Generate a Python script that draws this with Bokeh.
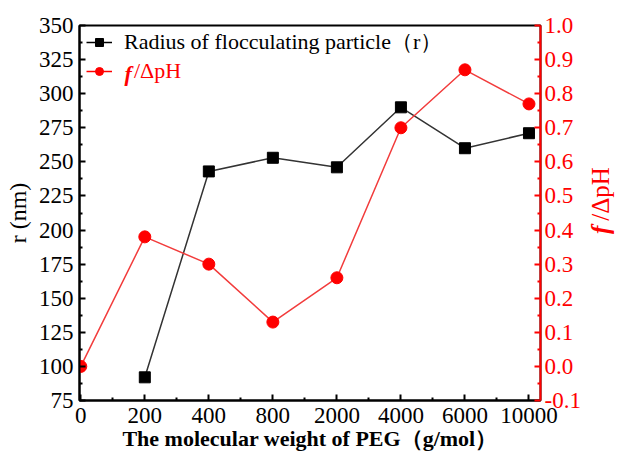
import math
from bokeh.plotting import figure
from bokeh.layouts import row
from bokeh.models import Range1d, LinearAxis, FixedTicker, Legend, LegendItem, ColumnDataSource, Label
from bokeh.embed import file_html
from bokeh.resources import INLINE

categories = ["0", "200", "400", "800", "2000", "4000", "6000", "10000"]
r_cats = ["200", "400", "800", "2000", "4000", "6000", "10000"]
r_values = [92, 243, 253, 246, 290, 260, 271]
f_values = [0.0, 0.38, 0.30, 0.13, 0.26, 0.70, 0.87, 0.77]
left_ticks = [75, 100, 125, 150, 175, 200, 225, 250, 275, 300, 325, 350]
right_ticks = [-0.1, 0.0, 0.1, 0.2, 0.3, 0.4, 0.5, 0.6, 0.7, 0.8, 0.9, 1.0]

idx = {c: i for i, c in enumerate(categories)}
r_x = [idx[c] for c in r_cats]
f_x = [idx[c] for c in categories]

FONT = "Liberation Serif"
RED = "#ff0000"
LINE_RED = "#f23c3c"

X0, X1 = -0.02, 7.18
Y0, Y1 = 75, 350
FL, FT, FW, FH = 79, 25, 461, 375
MAIN_W = 588
SIDE_W = 617 - MAIN_W


def px_to_x(px):
    return X0 + (px - FL) / FW * (X1 - X0)


def py_to_y(py):
    return Y1 - (py - FT) / FH * (Y1 - Y0)


p = figure(width=MAIN_W, height=451, output_backend="svg", toolbar_location=None,
           x_range=Range1d(X0, X1), y_range=Range1d(Y0, Y1),
           min_border_left=FL, min_border_right=MAIN_W - FL - FW, min_border_top=FT,
           min_border_bottom=451 - FT - FH)
p.frame_width = FW
p.frame_height = FH
p.xgrid.visible = False
p.ygrid.visible = False
p.outline_line_color = "black"
p.outline_line_width = 2
p.background_fill_color = "white"
p.border_fill_color = "white"

p.extra_y_ranges = {"f": Range1d(-0.1, 1.0)}

xa = p.xaxis[0]
xa.ticker = FixedTicker(ticks=list(range(len(categories))),
                        minor_ticks=[i + 0.5 for i in range(len(categories))])
xa.major_label_overrides = {i: c for i, c in enumerate(categories)}
xa.axis_label = "The molecular weight of PEG（g/mol）"

ya = p.yaxis[0]
ya.ticker = FixedTicker(ticks=left_ticks, minor_ticks=[t + 12.5 for t in left_ticks[:-1]])
ya.axis_label = "r (nm)"

ra = LinearAxis(y_range_name="f")
ra.ticker = FixedTicker(ticks=right_ticks, minor_ticks=[round(t + 0.05, 2) for t in right_ticks[:-1]])
ra.major_label_overrides = {t: f"{t:.1f}" for t in right_ticks}
p.add_layout(ra, "right")

for ax in (xa, ya, ra):
    ax.major_tick_in = 6
    ax.major_tick_out = 0
    ax.minor_tick_in = 3
    ax.minor_tick_out = 0
    ax.axis_line_width = 2
    ax.major_tick_line_width = 2
    ax.minor_tick_line_width = 2
    ax.major_label_text_font = FONT
    ax.major_label_text_font_size = "23px"
    ax.axis_label_text_font = FONT
    ax.major_label_standoff = 6

xa.major_label_standoff = 7
xa.axis_label_text_font_size = "22px"
xa.axis_label_text_font_style = "bold"
xa.axis_label_standoff = 0
ya.axis_label_text_font_size = "24px"
ya.axis_label_text_font_style = "normal"
ya.axis_label_standoff = 5
ra.major_label_standoff = 4

for ax in (xa, ya):
    ax.axis_line_color = "black"
    ax.major_tick_line_color = "black"
    ax.minor_tick_line_color = "black"
    ax.major_label_text_color = "black"
    ax.axis_label_text_color = "black"

ra.axis_line_color = RED
ra.major_tick_line_color = RED
ra.minor_tick_line_color = RED
ra.major_label_text_color = RED

rsrc = ColumnDataSource(dict(x=r_x, y=r_values))
fsrc = ColumnDataSource(dict(x=f_x, y=f_values))

p.line("x", "y", source=rsrc, line_color="#333333", line_width=1.5)
p.scatter("x", "y", source=rsrc, marker="square", size=11, fill_color="black", line_color="black")
p.line("x", "y", source=fsrc, line_color=LINE_RED, line_width=1.5, y_range_name="f")
p.scatter("x", "y", source=fsrc, marker="circle", size=12, fill_color=RED, line_color=RED, y_range_name="f")

# legend-only renderers (a single NaN point, nothing drawn in the plot)
nan_src = ColumnDataSource(dict(x=[float("nan")], y=[float("nan")]))
lg1 = p.line("x", "y", source=nan_src, line_color="black", line_width=1.5)
lm1 = p.scatter("x", "y", source=nan_src, marker="square", size=8, fill_color="black", line_color="black")
lg2 = p.line("x", "y", source=nan_src, line_color=RED, line_width=1.5)
lm2 = p.scatter("x", "y", source=nan_src, marker="circle", size=9, fill_color=RED, line_color=RED)

leg1 = Legend(items=[LegendItem(label="Radius of flocculating particle（r）", renderers=[lg1, lm1])],
              location=(3, 339), background_fill_alpha=0, border_line_alpha=0,
              label_text_font=FONT, label_text_font_size="22px", label_text_color="black",
              glyph_width=26, padding=4, margin=4, label_standoff=12)
leg2 = Legend(items=[LegendItem(label="/ΔpH", renderers=[lg2, lm2])],
              location=(3, 312), background_fill_alpha=0, border_line_alpha=0,
              label_text_font=FONT, label_text_font_size="22px", label_text_color=RED,
              glyph_width=26, padding=4, margin=4, label_standoff=22)
p.add_layout(leg1)
p.add_layout(leg2)

p.add_layout(Label(x=px_to_x(124), y=py_to_y(73), text="f", text_font=FONT,
                   text_font_size="22px", text_font_style="bold italic", text_color=RED,
                   text_align="left", text_baseline="middle"))

# side panel carrying the right axis title, reading bottom-to-top
side = figure(width=SIDE_W, height=451, output_backend="svg", toolbar_location=None,
              x_range=Range1d(0, SIDE_W), y_range=Range1d(0, 451),
              x_axis_location=None, y_axis_location=None, min_border=0)
side.grid.visible = False
side.outline_line_color = None
side.background_fill_color = "white"
side.border_fill_color = "white"
cx = 600 - MAIN_W
side.add_layout(Label(x=cx, y=451 - 252, text="f", text_font=FONT, angle=math.pi / 2,
                      text_font_size="25px", text_font_style="bold italic", text_color=RED,
                      text_align="left", text_baseline="middle"))
side.add_layout(Label(x=cx, y=451 - 236, text="/ΔpH", text_font=FONT, angle=math.pi / 2,
                      text_font_size="25px", text_font_style="normal", text_color=RED,
                      text_align="left", text_baseline="middle"))

layout = row(p, side, spacing=0)
open("out.html", "w").write(file_html(layout, INLINE))
